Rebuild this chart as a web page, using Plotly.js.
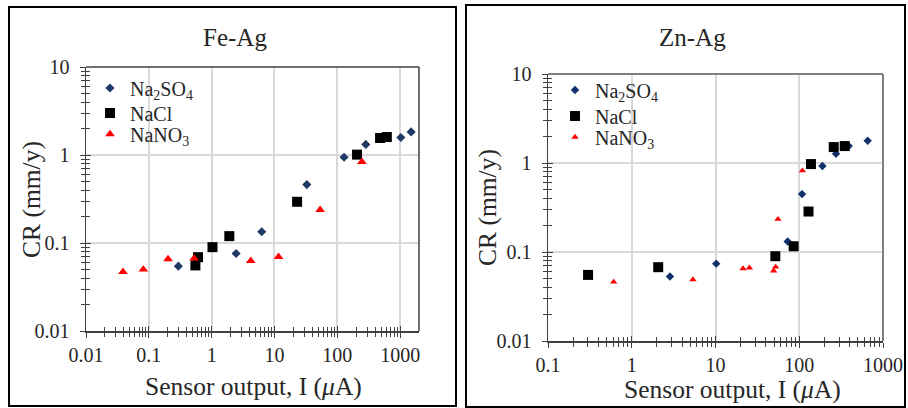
<!DOCTYPE html>
<html><head><meta charset="utf-8">
<script src="https://cdn.plot.ly/plotly-3.0.1.min.js"></script>
<style>html,body{margin:0;padding:0;background:#fff}</style>
</head><body><div id="chart" style="width:908px;height:408px"></div>
<script>
// ---- data: Fe-Ag ----
const feAgNa2SO4X = [0.295, 2.45, 6.27, 32.7, 128, 284, 1026, 1496];
const feAgNa2SO4Y = [0.0546, 0.076, 0.134, 0.461, 0.944, 1.32, 1.58, 1.83];
const feAgNaClX = [0.551, 0.607, 1.03, 1.91, 22.9, 206, 479, 614];
const feAgNaClY = [0.0556, 0.069, 0.0897, 0.1197, 0.294, 1.01, 1.56, 1.60];
const feAgNaNO3X = [0.0388, 0.0818, 0.202, 0.525, 4.19, 11.6, 53.2, 246];
const feAgNaNO3Y = [0.047, 0.050, 0.0656, 0.0667, 0.0628, 0.0697, 0.238, 0.836];
// ---- data: Zn-Ag ----
const znAgNa2SO4X = [2.86, 10.2, 72.8, 108, 189, 275, 389, 656];
const znAgNa2SO4Y = [0.053, 0.074, 0.131, 0.447, 0.923, 1.27, 1.55, 1.78];
const znAgNaClX = [0.301, 2.07, 51.8, 85.7, 129, 138, 258, 349];
const znAgNaClY = [0.0553, 0.0675, 0.0897, 0.116, 0.285, 0.973, 1.51, 1.55];
const znAgNaNO3X = [0.608, 5.38, 21.3, 25.4, 49.4, 52.3, 55.7, 109];
const znAgNaNO3Y = [0.0461, 0.049, 0.0652, 0.0664, 0.0614, 0.068, 0.234, 0.819];
// ---- labels ----
const seriesNames = ['Na<sub>2</sub>SO<sub>4</sub>', 'NaCl', 'NaNO<sub>3</sub>'];
const panelTitles = ['Fe-Ag', 'Zn-Ag'];
const xTitle = 'Sensor output, I (<i>μ</i>A)';
const yTitle = 'CR (mm/y)';
const xTickValsLeft = [0.01, 0.1, 1, 10, 100, 1000];
const xTickTextLeft = ['0.01', '0.1', '1', '10', '100', '1000'];
const xTickValsRight = [0.1, 1, 10, 100, 1000];
const xTickTextRight = ['0.1', '1', '10', '100', '1000'];
const yTickVals = [0.01, 0.1, 1, 10];
const yTickText = ['0.01', '0.1', '1', '10'];

function minorVals(lo, hi) {
  const v = [];
  for (let d = lo; d < hi; d++) for (let k = 2; k <= 9; k++) v.push(k * Math.pow(10, d));
  return v;
}

const W = 908, H = 408;
const FONT = '"Liberation Serif", "Times New Roman", serif';
const AX = '#404040';
const TXT = '#262626';
const px = v => v / W, py = v => 1 - v / H;

function mainAxis(domain, range, tv, tt, mv, anchor, standoff) {
  return {type: 'log', domain, range, anchor, tickmode: 'array', tickvals: tv, ticktext: tt,
    ticks: 'outside', ticklen: 5, tickwidth: 1, tickcolor: AX,
    minor: {tickvals: mv, ticks: 'outside', ticklen: 4, tickwidth: 1, tickcolor: AX, showgrid: false},
    showline: true, linecolor: AX, linewidth: 1.5,
    showgrid: true, gridcolor: '#d9d9d9', gridwidth: 2, zeroline: false,
    tickfont: {family: FONT, size: 20, color: TXT}, ticklabelstandoff: standoff, fixedrange: true};
}
function overlayAxis(over, range, tv, mv, anchor) {
  return {type: 'log', overlaying: over, range, anchor, tickmode: 'array', tickvals: tv,
    showticklabels: false, ticks: 'inside', ticklen: 5, tickwidth: 1, tickcolor: AX,
    minor: {tickvals: mv, ticks: 'inside', ticklen: 4, tickwidth: 1, tickcolor: AX, showgrid: false},
    showline: false, showgrid: false, zeroline: false, fixedrange: true};
}

const mk = (x, y, name, xa, ya, lg, sym, size, color) => ({
  type: 'scatter', mode: 'markers', x, y, name, xaxis: xa, yaxis: ya, legend: lg,
  marker: {symbol: sym, size, color, line: {width: 0}}, cliponaxis: false
});

const data = [
  mk(feAgNa2SO4X, feAgNa2SO4Y, seriesNames[0], 'x', 'y', 'legend', 'diamond', 7, '#203864'),
  mk(feAgNaClX, feAgNaClY, seriesNames[1], 'x', 'y', 'legend2', 'square', 10, '#000000'),
  mk(feAgNaNO3X, feAgNaNO3Y, seriesNames[2], 'x', 'y', 'legend3', 'triangle-up', 8.5, '#ff0000'),
  mk(znAgNa2SO4X, znAgNa2SO4Y, seriesNames[0], 'x2', 'y2', 'legend4', 'diamond', 6.5, '#12306c'),
  mk(znAgNaClX, znAgNaClY, seriesNames[1], 'x2', 'y2', 'legend5', 'square', 10, '#000000'),
  mk(znAgNaNO3X, znAgNaNO3Y, seriesNames[2], 'x2', 'y2', 'legend6', 'triangle-up', 6.5, '#ff0000'),
  {type: 'scatter', x: [], y: [], xaxis: 'x3', yaxis: 'y3', showlegend: false},
  {type: 'scatter', x: [], y: [], xaxis: 'x4', yaxis: 'y4', showlegend: false}
];

const lxr = [-2, 3.30], lyr = [-2, 1], rxr = [-1, 3], ryr = [-2, 1];
const lxd = [px(86), px(419)], lyd = [py(331), py(67)];
const rxd = [px(548), px(883)], ryd = [py(341), py(74)];
const mxL = minorVals(-2, 4), mxR = minorVals(-1, 3), my = minorVals(-2, 1);

const lg = (x, y) => ({bgcolor: 'rgba(0,0,0,0)', borderwidth: 0, xanchor: 'left', yanchor: 'middle',
  font: {family: FONT, size: 20, color: TXT}, itemwidth: 30, x: px(x), y: py(y)});

const ann = (text, x, y, size, angle) => ({text, x: px(x), y: py(y), xref: 'paper', yref: 'paper',
  showarrow: false, xanchor: 'center', yanchor: 'middle', textangle: angle || 0,
  font: {family: FONT, size, color: TXT}});

const line = (x0, y0, x1, y1, color, w, xref, yref) => ({type: 'line', x0, y0, x1, y1, xref, yref, line: {color, width: w}, layer: 'above'});

const layout = {
  width: W, height: H, margin: {l: 0, r: 0, t: 0, b: 0},
  paper_bgcolor: '#fff', plot_bgcolor: '#fff', showlegend: true,
  xaxis: mainAxis(lxd, lxr, xTickValsLeft, xTickTextLeft, mxL, 'y', 0),
  yaxis: mainAxis(lyd, lyr, yTickVals, yTickText, my, 'x', 6),
  xaxis2: mainAxis(rxd, rxr, xTickValsRight, xTickTextRight, mxR, 'y2', 0),
  yaxis2: mainAxis(ryd, ryr, yTickVals, yTickText, my, 'x2', 6),
  xaxis3: overlayAxis('x', lxr, xTickValsLeft, mxL, 'y'),
  yaxis3: overlayAxis('y', lyr, yTickVals, my, 'x'),
  xaxis4: overlayAxis('x2', rxr, xTickValsRight, mxR, 'y2'),
  yaxis4: overlayAxis('y2', ryr, yTickVals, my, 'x2'),
  legend: lg(90, 88), legend2: lg(90, 113), legend3: lg(90, 134),
  legend4: lg(555, 90), legend5: lg(555, 116), legend6: lg(555, 137),
  annotations: [
    ann(panelTitles[0], 235, 37, 25),
    ann(panelTitles[1], 692, 37, 25),
    ann(xTitle, 253, 386, 25.5),
    ann(xTitle, 732, 389, 25.5),
    ann(yTitle, 31, 200, 25.5, -90),
    ann(yTitle, 487, 208, 25.5, -90)
  ],
  shapes: [
    {type: 'rect', xref: 'paper', yref: 'paper', x0: px(9), x1: px(456), y0: py(406), y1: py(7), line: {color: '#000', width: 2}},
    {type: 'rect', xref: 'paper', yref: 'paper', x0: px(466), x1: px(905), y0: py(407), y1: py(5), line: {color: '#000', width: 2}},
    line(0, 1, 1, 1, '#404040', 1.5, 'x domain', 'y domain'),
    line(1, 0, 1, 1, '#404040', 1.5, 'x domain', 'y domain'),
    line(0, 1, 1, 1, '#808080', 2, 'x2 domain', 'y2 domain'),
    line(1, 0, 1, 1, '#808080', 2, 'x2 domain', 'y2 domain')
  ]
};

Plotly.newPlot('chart', data, layout, {displayModeBar: false, staticPlot: true});
</script>
</body></html>
